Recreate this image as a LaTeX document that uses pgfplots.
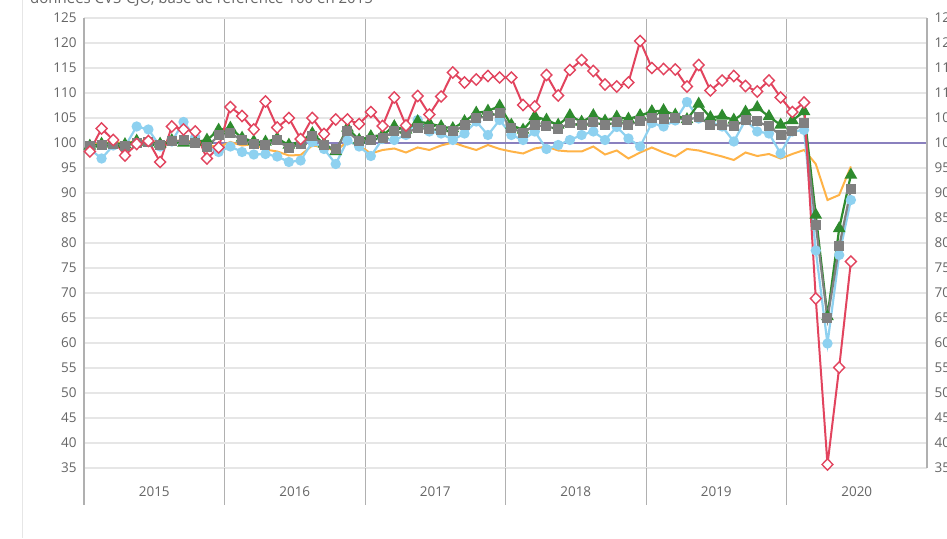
\documentclass[border=0pt]{standalone}
\usepackage{pgfplots}
\usepackage{pgfplotstable}
\pgfplotsset{compat=1.18}
\usepackage{fontspec}
\setmainfont{Open Sans}
\definecolor{cred}{HTML}{E2445E}
\definecolor{cblue}{HTML}{8ED1F0}
\definecolor{cgreen}{HTML}{2E8B2E}
\definecolor{cgray}{HTML}{808080}
\definecolor{corange}{HTML}{FFB347}
\definecolor{cpurple}{HTML}{8A80BE}
\definecolor{ctick}{HTML}{666666}
\definecolor{caxis}{HTML}{B0B0B0}
\definecolor{cgrid}{HTML}{E6E6E6}

\pgfplotstableread{
m red green gray blue orange
0 98.3 99.4 99.3 98.8 99.8
1 102.9 99.8 99.5 96.9 99.9
2 100.6 100.0 99.8 99.5 100.2
3 97.5 99.7 99.4 99.3 100.0
4 99.8 100.4 100.0 103.3 100.4
5 100.4 100.1 100.2 102.7 100.5
6 96.2 99.8 99.5 99.3 99.8
7 103.3 100.5 100.3 100.3 100.3
8 102.7 100.0 100.5 104.2 100.6
9 102.3 100.2 100.0 101.2 100.1
10 96.9 100.6 99.2 99.2 99.6
11 99.1 102.6 101.5 98.2 99.2
12 107.2 103.0 102.0 99.3 100.2
13 105.4 101.0 100.5 98.2 99.5
14 102.7 100.3 99.8 97.7 99.8
15 108.3 100.2 99.5 97.8 98.7
16 103.1 100.9 100.5 97.3 98.3
17 105.0 99.6 99.0 96.2 97.5
18 100.8 100.3 99.8 96.5 97.6
19 105.0 101.9 101.3 100.2 99.5
20 101.8 99.8 99.5 98.8 99.2
21 104.7 98.3 98.8 95.8 98.4
22 104.7 103.0 102.3 100.5 100.3
23 103.8 100.6 100.3 99.3 99.5
24 106.2 101.3 100.6 97.4 97.9
25 103.4 101.6 101.0 100.8 98.6
26 109.1 103.3 102.3 100.6 98.9
27 103.5 102.6 102.0 101.6 98.1
28 109.4 104.3 103.0 104.6 99.1
29 105.7 103.9 102.8 102.3 98.6
30 109.3 103.3 102.5 101.9 99.5
31 114.1 102.9 102.3 100.6 100.1
32 112.1 104.3 103.5 101.9 99.3
33 112.7 106.0 105.0 104.3 98.6
34 113.4 106.4 105.3 101.6 99.6
35 113.1 107.4 106.0 104.6 98.8
36 113.1 103.6 103.0 101.6 98.3
37 107.6 102.6 102.0 100.6 97.9
38 107.3 105.3 103.6 102.3 98.9
39 113.6 104.6 103.3 98.8 99.3
40 109.5 103.6 102.8 99.6 98.5
41 114.6 105.5 104.0 100.6 98.3
42 116.6 104.2 103.5 101.6 98.3
43 114.4 105.5 104.2 102.3 99.3
44 111.7 104.4 103.5 100.6 97.7
45 111.3 105.2 104.2 103.2 98.5
46 112.1 104.8 103.6 100.9 96.9
47 120.4 105.5 104.4 99.3 98.1
48 115.0 106.3 104.9 104.0 99.1
49 114.8 106.5 104.8 103.3 98.1
50 114.7 105.6 105.0 104.5 97.3
51 111.3 104.7 104.6 108.2 98.8
52 115.6 107.8 105.2 104.9 98.5
53 110.5 105.1 103.6 104.3 97.9
54 112.5 105.4 103.6 103.3 97.3
55 113.4 104.6 103.4 100.3 96.6
56 111.4 106.2 104.5 104.6 98.1
57 110.3 107.1 104.3 102.3 97.4
58 112.5 105.3 103.3 101.9 97.8
59 109.1 103.6 101.6 97.9 96.9
60 106.2 104.5 102.4 102.3 97.8
61 108.1 106.3 103.9 102.6 98.6
62 68.9 85.6 83.6 78.5 95.8
63 35.7 65.3 64.9 59.9 88.6
64 55.1 82.9 79.3 77.6 89.6
65 76.3 93.6 90.7 88.6 95.3
}\datatable

\begin{document}
\begin{tikzpicture}
\useasboundingbox (0pt,0pt) rectangle (947pt,538pt);
\clip (0pt,0pt) rectangle (947pt,538pt);
\fill[white] (0pt,0pt) rectangle (947pt,538pt);
\draw[cgrid, line width=1pt] (22pt,0pt) -- (22pt,538pt);
\node[anchor=base west, text=ctick, font=\fontsize{15}{18}\selectfont, inner sep=0pt] at (30pt,534pt) {données CVS-CJO, base de référence 100 en 2015};

\begin{axis}[
  at={(84pt,70pt)}, anchor=south west,
  scale only axis, width=843pt, height=450pt,
  xmin=-0.5, xmax=71.5, ymin=35, ymax=125,
  axis line style={draw=none},
  ytick={35,40,...,125},
  xtick={-0.5,11.5,23.5,35.5,47.5,59.5,71.5},
  xticklabels={},
  extra x ticks={5.5,17.5,29.5,41.5,53.5,65.5},
  extra x tick labels={2015,2016,2017,2018,2019,2020},
  extra x tick style={grid=none, major tick length=0pt,
     xticklabel style={yshift=-15pt}},
  major tick length=0pt,
  ymajorgrids, xmajorgrids,
  major y grid style={draw=cgrid, line width=1.8pt},
  major x grid style={draw=caxis, line width=0.9pt},
  tick label style={font=\fontsize{13.5}{15}\selectfont, text=ctick},
  yticklabel style={xshift=-4pt},
  /pgf/number format/assume math mode=true,
  clip=false,
]
\addplot[cpurple, line width=2.6pt] coordinates {(-0.5,100) (71.5,100)};
\addplot[corange, line width=2pt, no markers] table[x=m, y=orange] {\datatable};
\addplot[cblue, line width=2.2pt, mark=*, mark size=4pt, mark options={fill=cblue, draw=cblue}] table[x=m, y=blue] {\datatable};
\addplot[cgreen, line width=2.2pt, mark=triangle*, mark size=5.2pt, mark options={fill=cgreen, draw=cgreen}] table[x=m, y=green] {\datatable};
\addplot[cgray, line width=2.2pt, mark=square*, mark size=3.9pt, mark options={fill=cgray, draw=cgray}] table[x=m, y=gray] {\datatable};
\addplot[cred, line width=2pt, mark=diamond*, mark size=5.6pt, mark options={fill=white, draw=cred, line width=1.4pt, xscale=1.3}] table[x=m, y=red] {\datatable};
\draw[caxis, line width=2pt] (axis cs:-0.5,125) -- ([yshift=-37pt]axis cs:-0.5,35);
\draw[caxis, line width=0.9pt] (axis cs:11.5,35) -- ([yshift=-37pt]axis cs:11.5,35);
\draw[caxis, line width=0.9pt] (axis cs:23.5,35) -- ([yshift=-37pt]axis cs:23.5,35);
\draw[caxis, line width=0.9pt] (axis cs:35.5,35) -- ([yshift=-37pt]axis cs:35.5,35);
\draw[caxis, line width=0.9pt] (axis cs:47.5,35) -- ([yshift=-37pt]axis cs:47.5,35);
\draw[caxis, line width=0.9pt] (axis cs:59.5,35) -- ([yshift=-37pt]axis cs:59.5,35);
\end{axis}

\begin{axis}[
  at={(84pt,70pt)}, anchor=south west,
  scale only axis, width=843pt, height=450pt,
  xmin=-0.5, xmax=71.5, ymin=35, ymax=125,
  hide x axis,
  axis y line*=right,
  y axis line style={draw=caxis, line width=2pt},
  ytick={35,40,...,125},
  major tick length=0pt,
  tick label style={font=\fontsize{13.5}{15}\selectfont, text=ctick},
  yticklabel style={xshift=4pt},
  /pgf/number format/assume math mode=true,
]
\addplot[draw=none] coordinates {(0,100)};
\end{axis}
\end{tikzpicture}
\end{document}
